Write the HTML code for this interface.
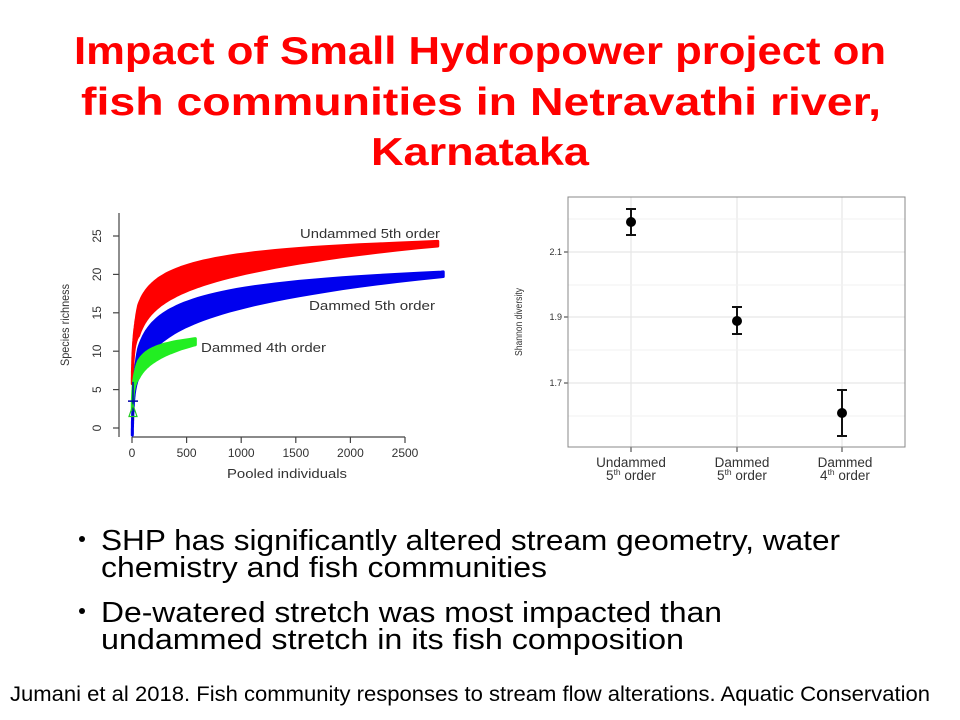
<!DOCTYPE html>
<html><head><meta charset="utf-8"><style>
html,body{margin:0;padding:0;background:#fff;}
svg{display:block;}
text{font-family:"Liberation Sans",sans-serif;}
</style></head><body>
<svg id="s" width="960" height="720" viewBox="0 0 960 720" xmlns="http://www.w3.org/2000/svg">
<rect width="960" height="720" fill="#fff"/>
<g fill="#ff0000" font-weight="bold" font-size="39" text-anchor="middle">
<text x="480" y="64" textLength="812" lengthAdjust="spacingAndGlyphs">Impact of  Small Hydropower project on</text>
<text x="481" y="115" textLength="800" lengthAdjust="spacingAndGlyphs">fish communities in Netravathi river,</text>
<text x="480" y="165" textLength="218" lengthAdjust="spacingAndGlyphs">Karnataka</text>
</g>
<!-- left chart -->
<g stroke="#444" stroke-width="1.2" fill="none">
<line x1="119" y1="213" x2="119" y2="437"/>
<line x1="132" y1="437" x2="405" y2="437"/>
</g>
<g id="lt" stroke="#444" stroke-width="1.2"></g>
<g id="curves"></g>
<g fill="#333">
<text x="300" y="238" textLength="140" lengthAdjust="spacingAndGlyphs" font-size="13">Undammed 5th order</text>
<text x="309" y="310" textLength="126" lengthAdjust="spacingAndGlyphs" font-size="13">Dammed 5th order</text>
<text x="201" y="352" textLength="125" lengthAdjust="spacingAndGlyphs" font-size="13">Dammed 4th order</text>
<text x="287" y="478" text-anchor="middle" textLength="120" lengthAdjust="spacingAndGlyphs" font-size="13">Pooled individuals</text>
<text transform="translate(69,325) rotate(-90)" text-anchor="middle" textLength="82" lengthAdjust="spacingAndGlyphs" font-size="12">Species richness</text>
</g>
<!-- right chart -->
<g id="rg"></g>
<rect x="568" y="197" width="337" height="250" fill="none" stroke="#888" stroke-width="1"/>
<g font-size="9" fill="#333" text-anchor="end">
<text x="562" y="255">2.1</text><text x="562" y="320">1.9</text><text x="562" y="386">1.7</text>
</g>
<text transform="translate(522,322) rotate(-90)" text-anchor="middle" font-size="10" fill="#333" textLength="68" lengthAdjust="spacingAndGlyphs">Shannon diversity</text>
<g font-size="13.5" fill="#333" text-anchor="middle">
<text x="631" y="467">Undammed</text><text x="631" y="480">5<tspan font-size="8.5" dy="-5">th</tspan><tspan dy="5"> order</tspan></text>
<text x="742" y="467">Dammed</text><text x="742" y="480">5<tspan font-size="8.5" dy="-5">th</tspan><tspan dy="5"> order</tspan></text>
<text x="845" y="467">Dammed</text><text x="845" y="480">4<tspan font-size="8.5" dy="-5">th</tspan><tspan dy="5"> order</tspan></text>
</g>
<g stroke="#111" stroke-width="2" fill="none">
<path d="M631 209V235M626 209H636M626 235H636"/>
<path d="M737 307V334M732 307H742M732 334H742"/>
<path d="M842 390V436M837 390H847M837 436H847"/>
</g>
<g fill="#000"><circle cx="631" cy="222" r="5"/><circle cx="737" cy="321" r="5"/><circle cx="842" cy="413" r="5"/></g>
<!-- bullets -->
<g font-size="29" fill="#000">
<circle cx="82" cy="539" r="3"/><circle cx="82" cy="611" r="3"/>
<text x="101" y="550" textLength="739" lengthAdjust="spacingAndGlyphs">SHP has significantly altered stream geometry, water</text>
<text x="101" y="577" textLength="446" lengthAdjust="spacingAndGlyphs">chemistry and fish communities</text>
<text x="101" y="622" textLength="621" lengthAdjust="spacingAndGlyphs">De-watered stretch was most impacted than</text>
<text x="101" y="649" textLength="583" lengthAdjust="spacingAndGlyphs">undammed stretch in its fish composition</text>
</g>
<text x="10" y="701" font-size="21" textLength="920" lengthAdjust="spacingAndGlyphs">Jumani et al 2018. Fish community responses to stream flow alterations. Aquatic Conservation</text>
</svg>
<script>
var NS="http://www.w3.org/2000/svg";
function el(p,t,a){var e=document.createElementNS(NS,t);for(var k in a)e.setAttribute(k,a[k]);p.appendChild(e);return e;}
var X=function(n){return 132+n*273/2500;}, Y=function(s){return 428-s*192/25;};
var lt=document.getElementById('lt'), svg=document.getElementById('s');
for(var i=0;i<=5;i++){var y=Y(i*5);el(lt,'line',{x1:113,y1:y,x2:119,y2:y});
 var t=el(svg,'text',{transform:'translate(101,'+y+') rotate(-90)','text-anchor':'middle','font-size':'12',fill:'#333'});t.textContent=i*5;}
for(var i=0;i<=5;i++){var x=X(i*500);el(lt,'line',{x1:x,y1:437,x2:x,y2:443});
 var t=el(svg,'text',{x:x,y:457,'text-anchor':'middle','font-size':'12',fill:'#333'});t.textContent=i*500;}
var cv=document.getElementById('curves');
function band(maxn,A,B,wmax,wmin,col){
 var up=[],lo=[];
 for(var n=3;n<=maxn;n*=1.08){var c=A+B*Math.log(n/500);var w=wmin+(wmax-wmin)*Math.pow(1-n/maxn,1.2)*Math.min(1,n/60);
  up.push(X(n).toFixed(1)+','+Y(c+w).toFixed(1));lo.unshift(X(n).toFixed(1)+','+Y(c-w).toFixed(1));}
 var c=A+B*Math.log(maxn/500);up.push(X(maxn)+','+Y(c+wmin));lo.unshift(X(maxn)+','+Y(c-wmin));
 el(cv,'polygon',{points:up.concat(lo).join(' '),fill:col,stroke:col,'stroke-width':3,'stroke-linejoin':'round'});
}
band(2800,19.5,2.61,2.0,0.3,'#ff0000');
band(2850,14.8,3.0,1.9,0.3,'#0000ee');
band(580,11.0,1.6,1.2,0.4,'#22ee22');
el(cv,'path',{d:'M128 '+Y(3.5)+'H138M133 '+Y(1)+'V'+Y(6),stroke:'#00a',fill:'none','stroke-width':1.5});
el(cv,'path',{d:'M129 '+Y(1.5)+'L133 '+Y(3)+'L137 '+Y(1.5)+'Z',stroke:'#2c2',fill:'none','stroke-width':1.2});
var rg=document.getElementById('rg');
[631,737,842].forEach(function(x){el(rg,'line',{x1:x,y1:197,x2:x,y2:447,stroke:'#e6e6e6','stroke-width':1.2});el(rg,'line',{x1:x,y1:447,x2:x,y2:452,stroke:'#333'});});
[252,317,383].forEach(function(y){el(rg,'line',{x1:568,y1:y,x2:905,y2:y,stroke:'#e6e6e6','stroke-width':1.2});el(rg,'line',{x1:564,y1:y,x2:568,y2:y,stroke:'#333'});});
[219,285,350,416].forEach(function(y){el(rg,'line',{x1:568,y1:y,x2:905,y2:y,stroke:'#f2f2f2','stroke-width':1});});
</script>
</body></html>
